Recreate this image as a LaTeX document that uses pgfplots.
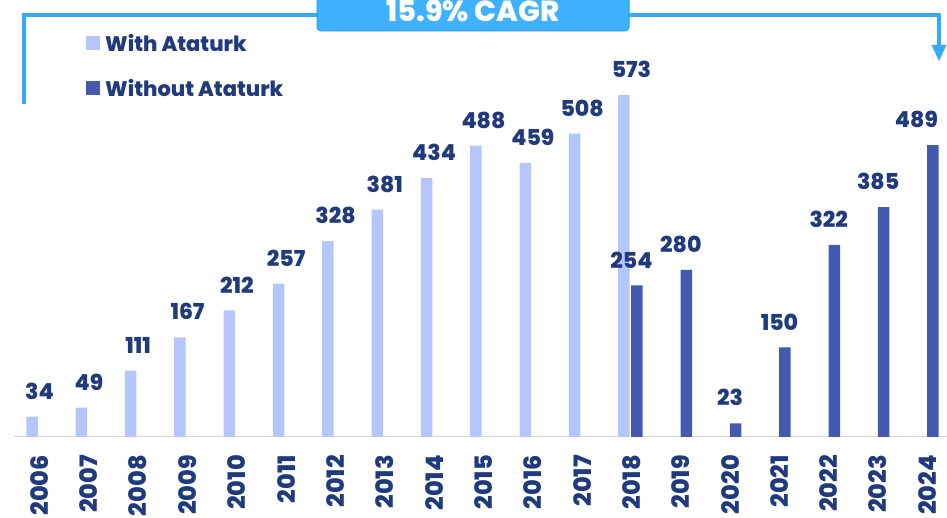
\documentclass[border=0pt]{standalone}
\usepackage{fontspec}
\setmainfont{Poppins}[BoldFont={Poppins ExtraBold}]
\usepackage{pgfplots}
\pgfplotsset{compat=1.18}
\usetikzlibrary{arrows.meta}

\definecolor{withA}{HTML}{B4C6FC}
\definecolor{withoutA}{HTML}{445AB0}
\definecolor{navy}{HTML}{203A7E}
\definecolor{cagr}{HTML}{3FB2FF}
\definecolor{cagrline}{HTML}{33ABFA}
\definecolor{cagredge}{HTML}{1AA3F2}

\newcommand\lblfont{\fontsize{22}{24}\selectfont\bfseries}
\newcommand\legfont{\fontsize{21}{23}\selectfont\bfseries}
\newcommand\tickfont{\fontsize{24}{26}\selectfont\bfseries}

\begin{document}
\begin{tikzpicture}
\begin{axis}[
  at={(0pt,0pt)}, anchor=south west,
  scale only axis, width=947pt, height=437pt,
  xmin=-0.801, xmax=18.397,
  ymin=0, ymax=732,
  axis line style={draw=none},
  ytick=\empty,
  xtick={0,1,2,3,4,5,6,7,8,9,10,11,12,13,14,15,16,17,18},
  xticklabels={2006,2007,2008,2009,2010,2011,2012,2013,2014,2015,2016,2017,2018,2019,2020,2021,2022,2023,2024},
  xticklabel style={rotate=90, anchor=east, inner sep=0pt, font=\tickfont, text=navy},
  xticklabel shift=18pt,
  major tick length=0pt,
  /pgf/number format/assume math mode=true,
  nodes near coords,
  visualization depends on={x \as \rawx},
  every node near coord/.append style={font=\lblfont, text=navy, inner sep=0pt, anchor=south,
    yshift=17pt, xshift={-11pt*(\rawx>17.5)}},
  legend style={at={(rel axis cs:0.0908,0.934)}, anchor=north west, draw=none, fill=none,
    inner sep=0pt, row sep=17pt, font=\legfont, text=navy, nodes={inner sep=5pt}},
  legend cell align=left,
  legend image code/.code={\fill[#1] (0pt,-6.5pt) rectangle (14pt,7.5pt);},
]
  % baseline
  \draw[color=black!15, line width=2pt] (axis cs:-0.52,0) -- (axis cs:18.397,0);

  \addplot[ybar, bar width=11.5pt, bar shift=-7.5pt, fill=withA, draw=none]
    coordinates {(0,34) (1,49) (2,111) (3,167) (4,212) (5,257) (6,328) (7,381)
                 (8,434) (9,488) (10,459) (11,508) (12,573)};
  \addlegendentry{With Ataturk}

  \addplot[ybar, bar width=11.5pt, bar shift=5.5pt, fill=withoutA, draw=none]
    coordinates {(12,254) (13,280) (14,23) (15,150) (16,322) (17,385) (18,489)};
  \addlegendentry{Without Ataturk}
\end{axis}

% CAGR bracket
\draw[cagrline, line width=3.5pt, line join=miter] (24pt,333pt) -- (24pt,422pt) -- (939pt,422pt) -- (939pt,392pt);
\fill[cagrline] (931.5pt,392pt) -- (946.5pt,392pt) -- (939pt,376pt) -- cycle;
\draw[fill=cagr, draw=cagredge, line width=1pt, rounded corners=4pt] (317pt,406pt) rectangle (629pt,447pt);
\node[anchor=base, text=white, inner sep=0pt, font=\fontsize{29}{30}\selectfont\bfseries] at (473pt,415pt) {15.9\% CAGR};

\pgfresetboundingbox
\path[use as bounding box] (0pt,-81pt) rectangle (947pt,437pt);
\end{tikzpicture}
\end{document}
